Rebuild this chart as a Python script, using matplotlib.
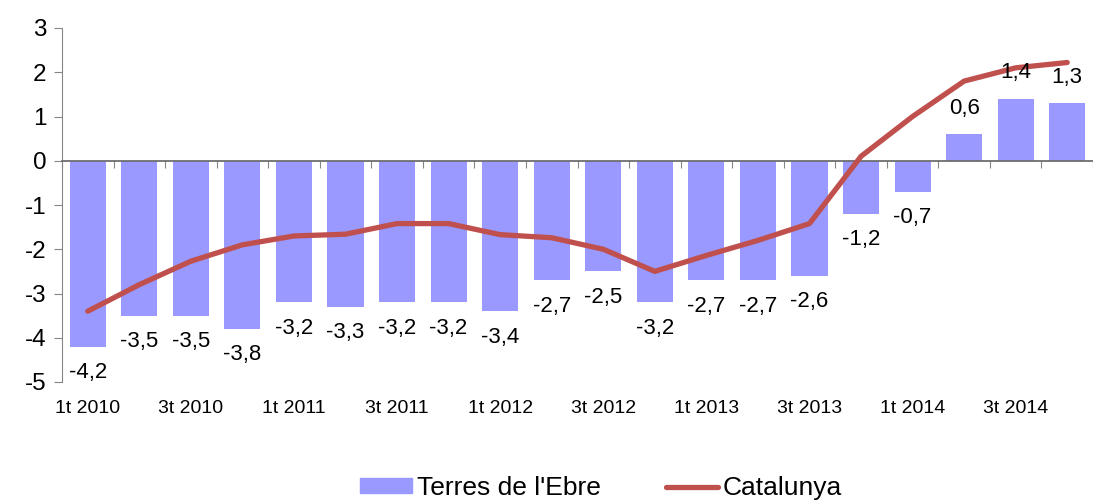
import numpy as np
import matplotlib.pyplot as plt
from matplotlib.patches import Patch
from matplotlib.lines import Line2D

plt.rcParams['font.family'] = ['Liberation Sans', 'DejaVu Sans']

quarters = ["1t 2010", "2t 2010", "3t 2010", "4t 2010",
            "1t 2011", "2t 2011", "3t 2011", "4t 2011",
            "1t 2012", "2t 2012", "3t 2012", "4t 2012",
            "1t 2013", "2t 2013", "3t 2013", "4t 2013",
            "1t 2014", "2t 2014", "3t 2014", "4t 2014"]
ebre = [-4.2, -3.5, -3.5, -3.8, -3.2, -3.3, -3.2, -3.2, -3.4, -2.7,
        -2.5, -3.2, -2.7, -2.7, -2.6, -1.2, -0.7, 0.6, 1.4, 1.3]
catalunya = [-3.4, -2.8, -2.27, -1.9, -1.7, -1.66, -1.42, -1.42, -1.67, -1.74,
             -2.0, -2.5, -2.14, -1.8, -1.42, 0.1, 1.0, 1.8, 2.1, 2.22]

bar_color = '#9999FF'
line_color = '#C0504D'
axis_color = '#868686'

fig = plt.figure(figsize=(10.93, 5.0), dpi=100)
ax = fig.add_axes([62 / 1093, 1 - 382 / 500, 1 - 62 / 1093, (382 - 28) / 500])

x = np.arange(len(quarters))
ax.bar(x, ebre, width=0.7, color=bar_color, zorder=2)
ax.plot(x, catalunya, color=line_color, lw=3.8, solid_capstyle='round', zorder=4)

ax.set_ylim(-5, 3)
ax.set_xlim(-0.5, -0.5 + (1093 - 62) / 52)
ax.set_yticks(range(-5, 4))
ax.set_yticklabels([str(v) for v in range(-5, 4)], fontsize=17.5)

# category axis sits on zero, labels at the bottom
for s in ['top', 'right']:
    ax.spines[s].set_visible(False)
ax.spines['left'].set_color(axis_color)
ax.spines['bottom'].set_position(('data', 0))
ax.spines['bottom'].set_color('#6e6e6e')
ax.spines['bottom'].set_linewidth(1.3)
ax.spines['bottom'].set_zorder(3)
ax.set_xticks(np.arange(len(quarters) + 1) - 0.5)
ax.set_xticklabels([])
ax.tick_params(axis='x', direction='out', length=5, color=axis_color)
ax.tick_params(axis='y', direction='out', length=6, color=axis_color, pad=5)

for i in range(0, len(quarters), 2):
    ax.text(i, -5.6, quarters[i], ha='center', va='center', fontsize=14)

# data labels
for i, v in enumerate(ebre):
    off = 26 if v > 0 else -26
    ax.annotate(f"{v:.1f}".replace('.', ','), (i, v), xytext=(0, off),
                textcoords='offset pixels', ha='center', va='center', fontsize=16, zorder=5)

handles = [Patch(color=bar_color), Line2D([0], [0], color=line_color, lw=3.8, solid_capstyle='round')]
fig.legend(handles, ["Terres de l'Ebre", "Catalunya"], loc='center left',
           bbox_to_anchor=(360 / 1093, 12 / 500), ncol=2, frameon=False, fontsize=19,
           handlelength=1.97, handleheight=0.5, handletextpad=0.2, columnspacing=2.45,
           borderaxespad=0, borderpad=0)

fig.savefig('out.png', dpi=100)
